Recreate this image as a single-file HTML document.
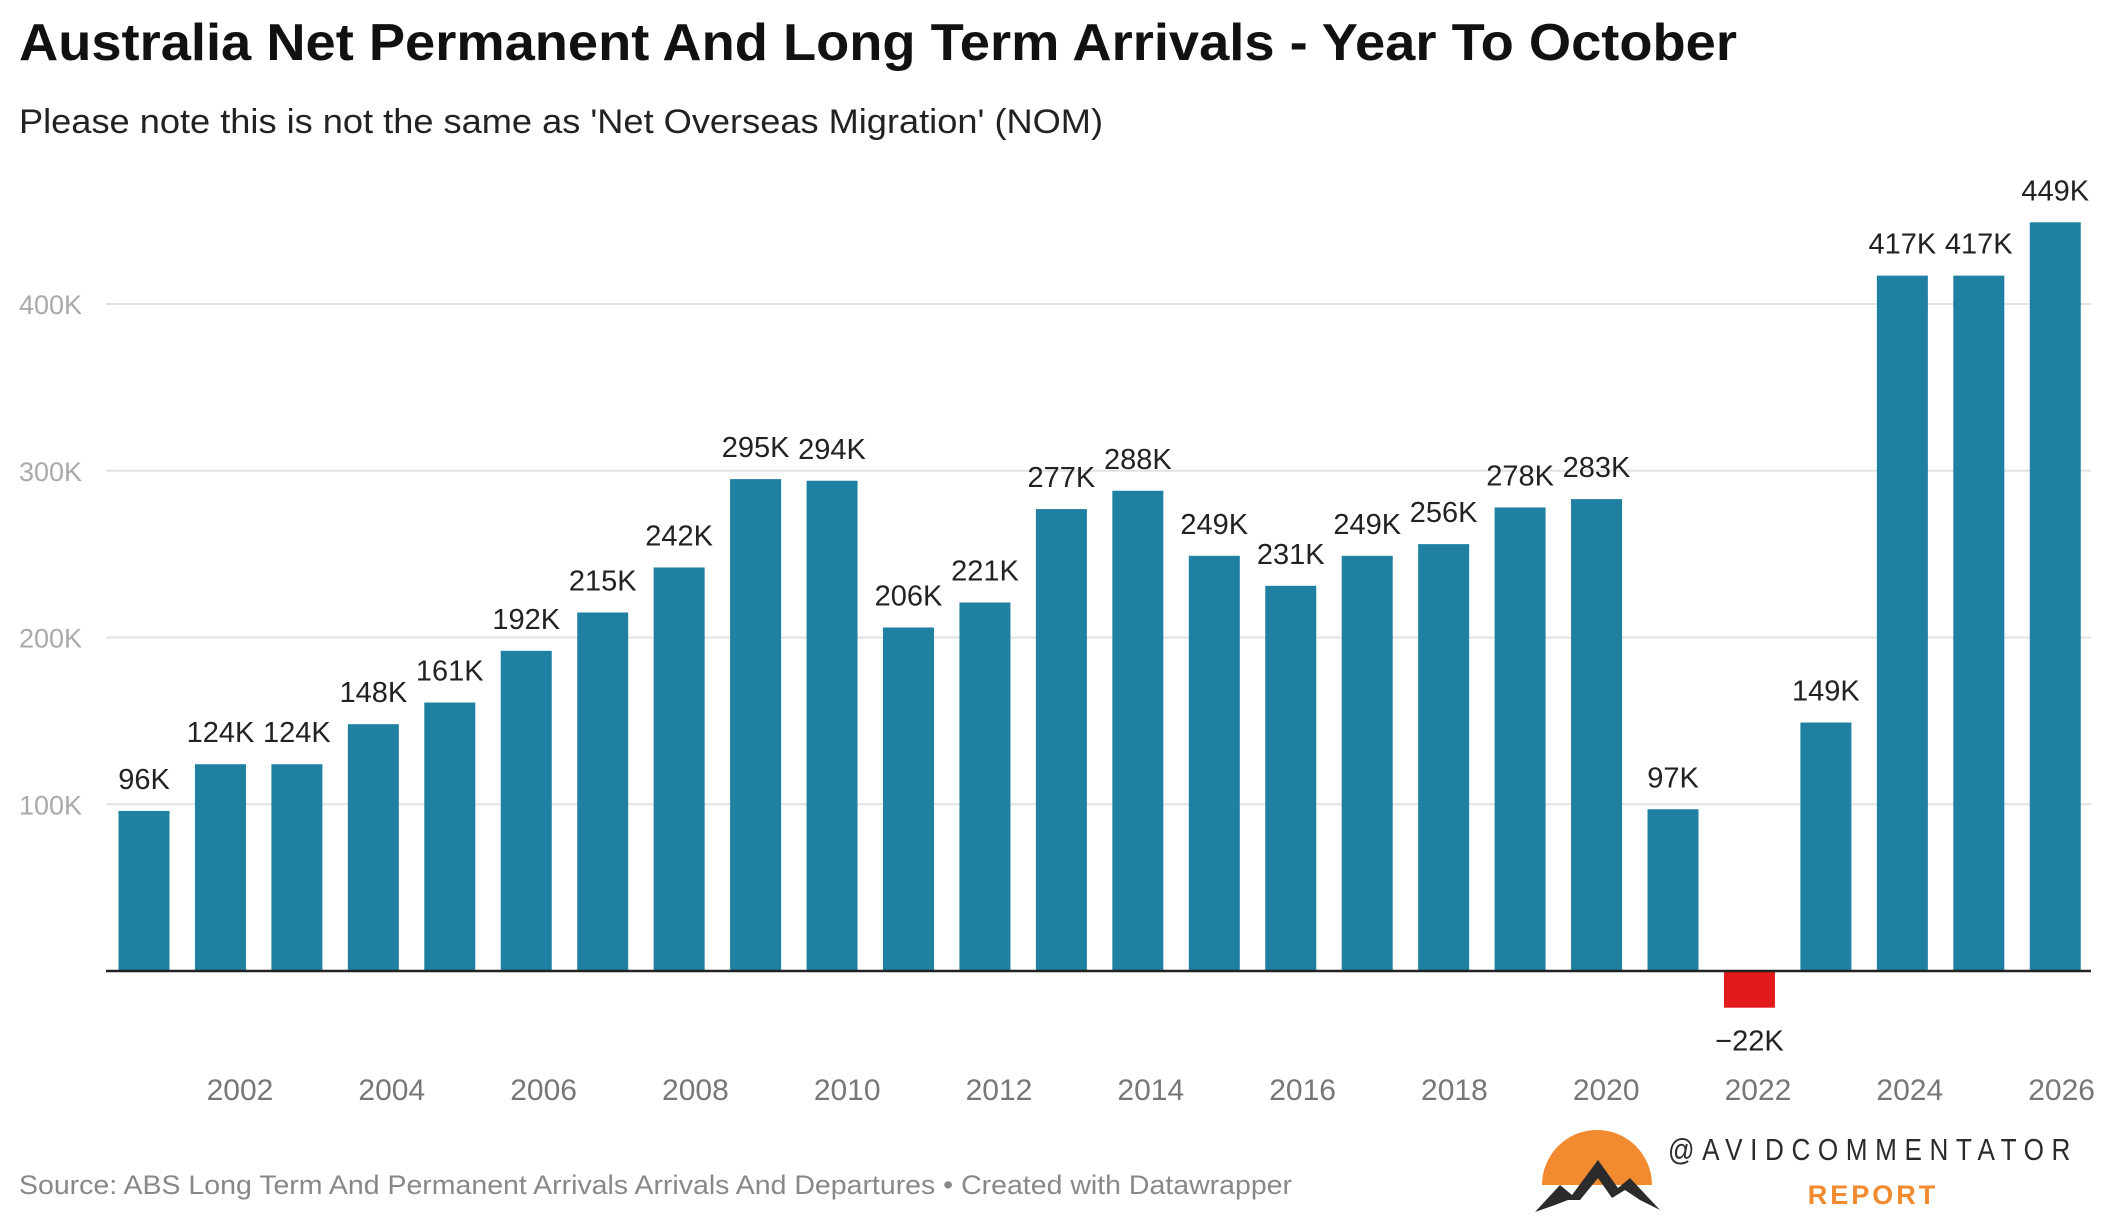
<!DOCTYPE html>
<html><head><meta charset="utf-8"><style>
html,body{margin:0;padding:0;background:#fff;}
svg{display:block;font-family:"Liberation Sans",sans-serif;}
</style></head><body>
<svg width="2116" height="1223" viewBox="0 0 2116 1223">
<text x="19" y="60" font-size="52" font-weight="bold" fill="#111" textLength="1718" lengthAdjust="spacingAndGlyphs">Australia Net Permanent And Long Term Arrivals - Year To October</text>
<text x="19" y="133" font-size="34" fill="#222" textLength="1084" lengthAdjust="spacingAndGlyphs">Please note this is not the same as 'Net Overseas Migration' (NOM)</text>
<g id="grid"></g>
<g id="bars"></g>
<g id="labels"></g>
<g id="xaxis"></g>
<text x="19" y="1194" font-size="27" fill="#888" textLength="1273" lengthAdjust="spacingAndGlyphs">Source: ABS Long Term And Permanent Arrivals Arrivals And Departures • Created with Datawrapper</text>
<g>
<path d="M1542,1185 A55,55 0 1 1 1652,1185 Z" fill="#f28a30"/>
<path d="M1535,1212 L1560,1185 L1572,1195 L1598,1160 L1618,1188 L1630,1178 L1660,1210 L1640,1200 L1625,1190 L1612,1198 L1598,1178 L1580,1200 L1568,1200 L1555,1205 Z" fill="#2b2b2b"/>
<text x="1668" y="1160" font-size="31" fill="#2b2b2b" letter-spacing="9" textLength="410" lengthAdjust="spacingAndGlyphs">@AVIDCOMMENTATOR</text>
<text x="1873" y="1204" font-size="27" font-weight="bold" fill="#f28a30" text-anchor="middle" letter-spacing="3">REPORT</text>
</g>
</svg>
<script>
const years=[2001,2002,2003,2004,2005,2006,2007,2008,2009,2010,2011,2012,2013,2014,2015,2016,2017,2018,2019,2020,2021,2022,2023,2024,2025,2026];
const values=[96,124,124,148,161,192,215,242,295,294,206,221,277,288,249,231,249,256,278,283,97,-22,149,417,417,449];
const yTicks=[100,200,300,400];
const xTicks=[2002,2004,2006,2008,2010,2012,2014,2016,2018,2020,2022,2024,2026];
const NS="http://www.w3.org/2000/svg";
const y0=971,k=1.6675;
function y(v){return y0-v*k;}
function xBar(i){return 144+i*76.45;}
function xTick(yr){return 240+(yr-2002)*75.9;}
function mk(t,a,p){const e=document.createElementNS(NS,t);for(const n in a)e.setAttribute(n,a[n]);p.appendChild(e);return e;}
const grid=document.getElementById('grid');
yTicks.forEach(v=>{
 const l=mk('line',{x1:106,x2:2091,y1:y(v*1),y2:y(v*1),stroke:'#e2e2e2','stroke-width':2},grid);
 
 
 const t=mk('text',{x:19,y:y(v)+10,'font-size':27,fill:'#aaa'},grid);
 t.textContent=v+'K';
 
 
});
const bars=document.getElementById('bars'),labels=document.getElementById('labels');
values.forEach((v,i)=>{
 const cx=xBar(i),top=Math.min(y(v),y0),h=Math.abs(y(v)-y0);
 const r=mk('rect',{x:cx-25.5,y:top,width:51,height:h,fill:v<0?'#e31a1c':'#1f80a1'},bars);
 
 
 const t=mk('text',{x:cx,y:v<0?y(v)+43:y(v)-22,'font-size':29,fill:'#222','text-anchor':'middle'},labels);
 t.textContent=(v<0?'−'+(-v):v)+'K';
 
 
});
const ax=document.getElementById('xaxis');
const base=mk('line',{x1:106,x2:2091,y1:y0,y2:y0,stroke:'#222','stroke-width':2.5},ax);


xTicks.forEach(yr=>{
 const t=mk('text',{x:xTick(yr),y:1100,'font-size':30,fill:'#777','text-anchor':'middle'},ax);
 t.textContent=yr;
 
 
});
</script>
</body></html>
